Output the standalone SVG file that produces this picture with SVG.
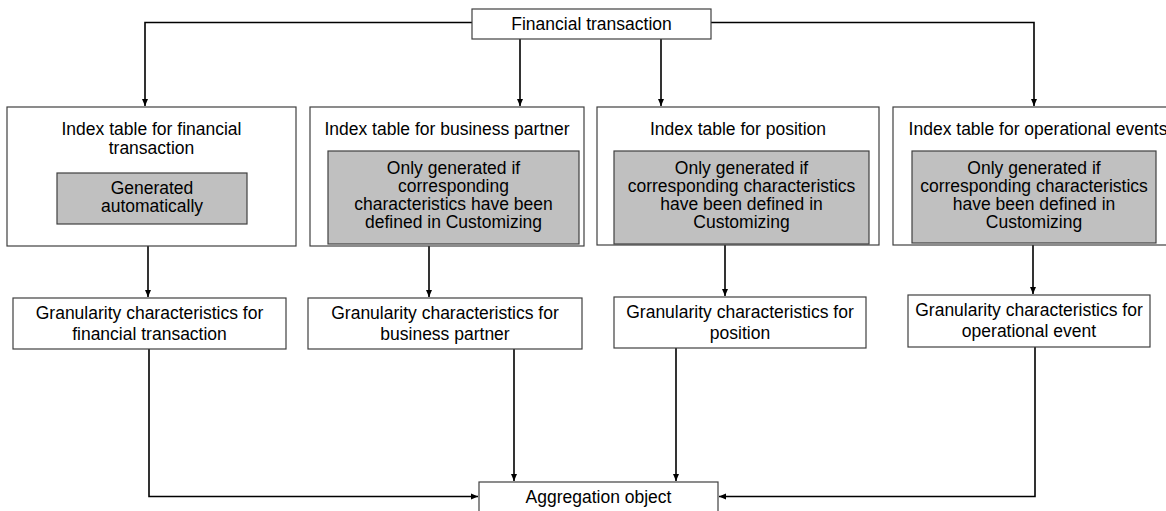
<svg xmlns="http://www.w3.org/2000/svg" width="1166" height="511" viewBox="0 0 1166 511">
<defs>
<marker id="ah" markerWidth="8" markerHeight="8" refX="7" refY="4" orient="auto" markerUnits="userSpaceOnUse"><path d="M0,1 L7,4 L0,7 z" fill="#000"/></marker>
</defs>
<style>
.box{fill:#fff;stroke:#404040;stroke-width:1.2}
.gray{fill:#c0c0c0;stroke:#404040;stroke-width:1.2}
.t{font-family:"Liberation Sans",Arial,sans-serif;font-size:17.5px;fill:#000;text-anchor:middle}
.c{fill:none;stroke:#000;stroke-width:1.6}
.c path{marker-end:url(#ah)}
</style>
<rect width="1166" height="511" fill="#fff"/>
<g id="connectors" class="c">
<path d="M472,22.5 H145 V106"/>
<path d="M711,22.5 H1034 V106"/>
<path d="M520,39 V106"/>
<path d="M661,39 V106"/>
<path d="M148,246 V297"/>
<path d="M429,244 V297"/>
<path d="M725,245 V296"/>
<path d="M1033,245 V294"/>
<path d="M149,349 V496.5 H478"/>
<path d="M514,349 V481"/>
<path d="M676,348 V481"/>
<path d="M1035,347 V496.5 H719"/>
</g>
<g id="ft">
<rect class="box" x="472" y="9" width="239" height="30"/>
<text class="t" x="591.5" y="29.5">Financial transaction</text>
</g>
<g id="it1">
<rect class="box" x="7" y="107" width="289" height="139"/>
<text class="t" x="151.5" y="135">Index table for financial</text>
<text class="t" x="151.5" y="154">transaction</text>
<rect class="gray" x="57" y="173" width="190" height="51"/>
<text class="t" x="152" y="194">Generated</text>
<text class="t" x="152" y="212">automatically</text>
</g>
<g id="it2">
<rect class="box" x="310" y="107" width="274" height="139"/>
<text class="t" x="447" y="135">Index table for business partner</text>
<rect class="gray" x="328" y="151" width="251" height="93"/>
<text class="t" x="453.5" y="174">Only generated if</text>
<text class="t" x="453.5" y="192">corresponding</text>
<text class="t" x="453.5" y="210">characteristics have been</text>
<text class="t" x="453.5" y="228">defined in Customizing</text>
</g>
<g id="it3">
<rect class="box" x="597" y="107" width="282" height="138"/>
<text class="t" x="738" y="135">Index table for position</text>
<rect class="gray" x="614" y="151" width="255" height="93"/>
<text class="t" x="741.5" y="174">Only generated if</text>
<text class="t" x="741.5" y="192">corresponding characteristics</text>
<text class="t" x="741.5" y="210">have been defined in</text>
<text class="t" x="741.5" y="228">Customizing</text>
</g>
<g id="it4">
<rect class="box" x="893" y="107" width="290" height="138"/>
<text class="t" x="1038" y="135">Index table for operational events</text>
<rect class="gray" x="912" y="151" width="244" height="92"/>
<text class="t" x="1034" y="174">Only generated if</text>
<text class="t" x="1034" y="192">corresponding characteristics</text>
<text class="t" x="1034" y="210">have been defined in</text>
<text class="t" x="1034" y="228">Customizing</text>
</g>
<g id="g1">
<rect class="box" x="13" y="298" width="273" height="51"/>
<text class="t" x="149.5" y="319">Granularity characteristics for</text>
<text class="t" x="149.5" y="340">financial transaction</text>
</g>
<g id="g2">
<rect class="box" x="308" y="298" width="274" height="51"/>
<text class="t" x="445" y="319">Granularity characteristics for</text>
<text class="t" x="445" y="340">business partner</text>
</g>
<g id="g3">
<rect class="box" x="614" y="297" width="252" height="51"/>
<text class="t" x="740" y="318">Granularity characteristics for</text>
<text class="t" x="740" y="339">position</text>
</g>
<g id="g4">
<rect class="box" x="908" y="295" width="242" height="52"/>
<text class="t" x="1029" y="316">Granularity characteristics for</text>
<text class="t" x="1029" y="337">operational event</text>
</g>
<g id="agg">
<rect class="box" x="479" y="482" width="239" height="40"/>
<text class="t" x="598.5" y="503">Aggregation object</text>
</g>
</svg>
